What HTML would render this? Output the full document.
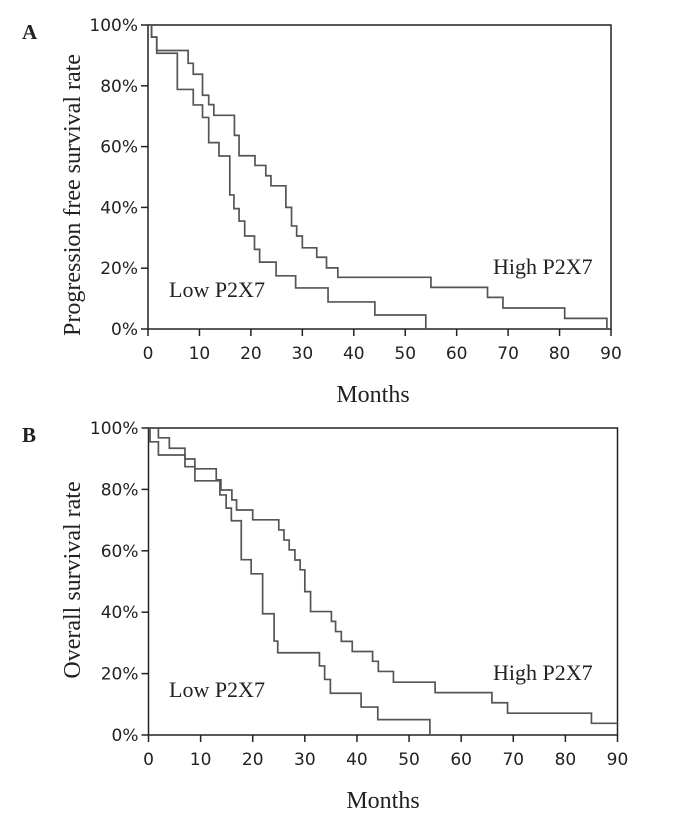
<!DOCTYPE html>
<html><head><meta charset="utf-8"><style>
html,body{margin:0;padding:0;background:#fff;}
svg{display:block;}
.tick{font-family:"DejaVu Sans","Liberation Sans",sans-serif;font-size:17px;fill:#222;}
.ser{font-family:"Liberation Serif",serif;fill:#222;}
</style></head><body>
<svg id="chart" width="688" height="820" viewBox="0 0 688 820" xmlns="http://www.w3.org/2000/svg"></svg>
<script>
const xTicks=[0,10,20,30,40,50,60,70,80,90];
const yTicks=[0,20,40,60,80,100];
const yTickLabels=["0%","20%","40%","60%","80%","100%"];
// Panel A: progression free survival (month, %)
const lowA_t=[0,0.7,1.7,5.7,8.8,10.6,11.8,13.8,15.9,16.7,17.7,18.8,20.7,21.7,24.9,28.7,35,44.1,54];
const lowA_s=[100,96,90.7,78.8,73.7,69.6,61.3,56.9,44.1,39.6,35.5,30.6,26.2,22,17.5,13.5,8.9,4.6,0];
const highA_t=[0,0.7,1.7,7.8,8.8,10.6,11.8,12.8,16.8,17.7,20.8,22.9,23.9,26.8,27.9,28.9,30,32.8,34.7,36.9,55,66,69,81,89.2];
const highA_s=[100,96,91.6,87.4,83.8,76.9,73.8,70.3,63.7,57,53.8,50.4,47.1,40,33.9,30.6,26.7,23.6,20.1,17,13.7,10.4,6.9,3.5,0];
// Panel B: overall survival
const lowB_t=[0,0.3,1.9,7,8.9,13.7,14.9,15.9,17.8,19.7,21.9,24.1,24.8,32.8,33.8,34.9,40.8,44,54];
const lowB_s=[100,95.5,91.2,87.4,82.8,78.2,73.9,69.8,57.1,52.5,39.5,30.6,26.8,22.5,18.1,13.6,9.1,5,0];
const highB_t=[0,1.9,4,7,8.9,13,13.9,16,16.9,20,25,26,27,28.1,29.1,30,31.1,35.1,35.9,37,39.1,43,44.1,47,55,65.9,68.9,85,90];
const highB_s=[100,96.8,93.4,89.9,86.7,83.1,79.8,76.6,73.3,70.1,66.8,63.5,60.3,57,53.8,46.7,40.2,37,33.7,30.5,27.2,24,20.7,17.2,13.8,10.5,7.1,3.8,3.8];

const svg=document.getElementById('chart');
const NS='http://www.w3.org/2000/svg';
function mk(tag,attrs,parent){const e=document.createElementNS(NS,tag);for(const k in attrs)e.setAttribute(k,attrs[k]);(parent||svg).appendChild(e);return e;}

function panel(p){
  const g=mk('g',{});
  
  
  const xs=m=>p.x0+m*(p.x1-p.x0)/90;
  const ys=v=>p.y0-v*(p.y0-p.y1)/100;
  const frame=mk('rect',{x:p.x0,y:p.y1,width:p.x1-p.x0,height:p.y0-p.y1,fill:'none',stroke:'#222','stroke-width':1.5},g);
  
  
  yTicks.forEach((v,i)=>{
    const t=mk('line',{x1:p.x0-7,x2:p.x0,y1:ys(v),y2:ys(v),stroke:'#222','stroke-width':1.5},g);
    
    
    const l=mk('text',{x:p.x0-10,y:ys(v)+6,'text-anchor':'end',class:'tick'},g);
    l.textContent=yTickLabels[i];
    
    
  });
  xTicks.forEach(v=>{
    const t=mk('line',{x1:xs(v),x2:xs(v),y1:p.y0,y2:p.y0+7,stroke:'#222','stroke-width':1.5},g);
    
    
    const l=mk('text',{x:xs(v),y:p.y0+30,'text-anchor':'middle',class:'tick'},g);
    l.textContent=v;
    
    
  });
  function step(ts,ss,nm){
    let d='M'+xs(ts[0])+','+ys(ss[0]);
    for(let i=1;i<ts.length;i++){d+=' H'+xs(ts[i])+' V'+ys(ss[i]);}
    const path=mk('path',{d:d,fill:'none',stroke:'#555','stroke-width':1.7},g);
    
    
  }
  step(p.lowT,p.lowS,'low-p2x7-curve');
  step(p.highT,p.highS,'high-p2x7-curve');
  const lab=mk('text',{x:22,y:p.y1+14,class:'ser','font-size':21,'font-weight':'bold'},g);
  lab.textContent=p.letter;
  
  
  const xt=mk('text',{x:p.mx,y:p.y0+73,'text-anchor':'middle',class:'ser','font-size':24},g);
  xt.textContent='Months';
  
  
  const cy=p.ycenter;
  const yt=mk('text',{x:80,y:cy,'text-anchor':'middle',class:'ser','font-size':24,transform:'rotate(-90 80 '+cy+')'},g);
  yt.textContent=p.ytitle;
  
  
  const lo=mk('text',{x:169,y:p.y0-p.lowOff,class:'ser','font-size':22},g);
  lo.textContent='Low P2X7';
  
  
  const hi=mk('text',{x:493,y:p.y0-55,class:'ser','font-size':22},g);
  hi.textContent='High P2X7';
  
  
}
panel({name:'panel-a-pfs',letter:'A',x0:148,x1:611,y0:329,y1:25,ycenter:195,mx:373,lowOff:32,lowT:lowA_t,lowS:lowA_s,highT:highA_t,highS:highA_s,ytitle:'Progression free survival rate'});
panel({name:'panel-b-os',letter:'B',x0:148.5,x1:617.5,y0:735,y1:428,ycenter:580,mx:383,lowOff:38,lowT:lowB_t,lowS:lowB_s,highT:highB_t,highS:highB_s,ytitle:'Overall  survival rate'});
</script>
</body></html>
